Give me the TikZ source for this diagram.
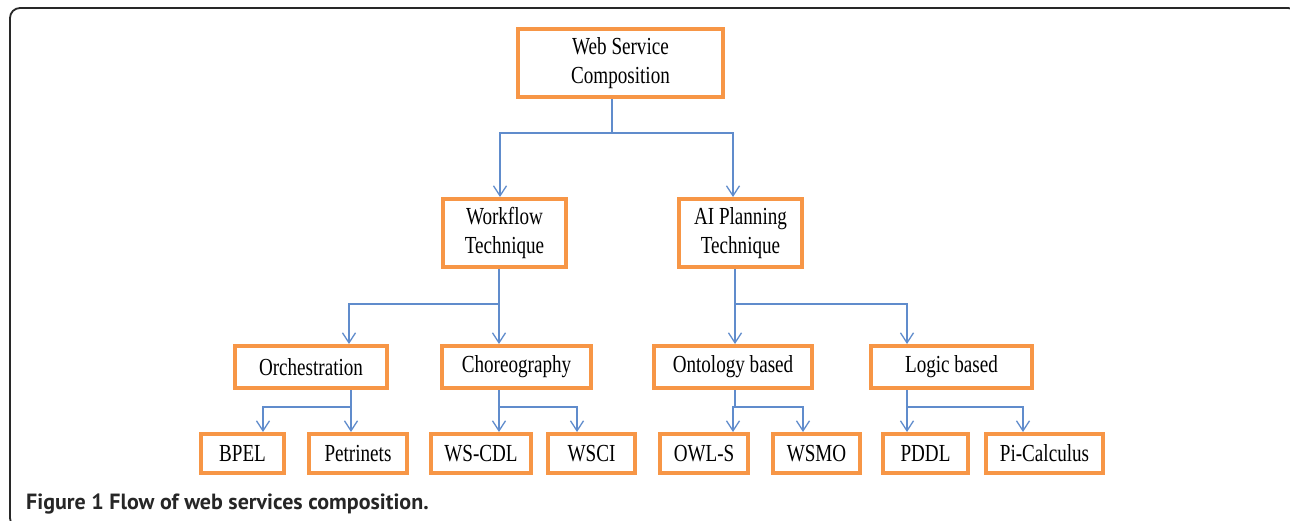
\documentclass[tikz,border=0pt]{standalone}
\usepackage{fontspec}
\setmainfont{Liberation Serif}[FakeStretch=0.78]
\newfontfamily\capfont{PT Sans}
\usetikzlibrary{arrows.meta}
\definecolor{boxorange}{RGB}{247,150,70}
\definecolor{linkblue}{RGB}{96,140,204}
\definecolor{framegray}{RGB}{40,40,40}
\begin{document}
\begin{tikzpicture}[x=1pt,y=-1pt,
  box/.style={draw=boxorange, line width=4pt, fill=white, inner sep=0pt,
    align=center, font=\fontsize{24.5}{29}\selectfont},
  link/.style={draw=linkblue, line width=1.4pt},
  arr/.style={link, -{Straight Barb[length=10pt,width=13pt,line width=1.3pt]}}]
\useasboundingbox (0,0) rectangle (1290,520);
\clip (0,0) rectangle (1290,520);
% outer figure frame
\draw[framegray, line width=1.8pt, rounded corners=10pt] (10,8) rectangle (1298,528);

% tree nodes
\node[box, minimum width=205pt, minimum height=68pt] (wsc) at (620.5,63) {Web Service\\Composition};
\node[box, minimum width=123pt, minimum height=68pt] (wf) at (504.5,233) {Workflow\\Technique};
\node[box, minimum width=123pt, minimum height=68pt] (ai) at (740.5,233) {AI Planning\\Technique};

\node[box, minimum width=152pt, minimum height=42pt] (orch) at (311,367) {Orchestration};
\node[box, minimum width=149pt, minimum height=42pt] (chor) at (516.5,367) {Choreography};
\node[box, minimum width=158pt, minimum height=42pt] (onto) at (733,367) {Ontology based};
\node[box, minimum width=161pt, minimum height=42pt] (logic) at (951.5,367) {Logic based};

\node[box, minimum width=83pt, minimum height=39pt] (bpel) at (242.5,453.5) {BPEL};
\node[box, minimum width=98pt, minimum height=39pt] (petri) at (358,453.5) {Petrinets};
\node[box, minimum width=100pt, minimum height=39pt] (wscdl) at (481,453.5) {WS-CDL};
\node[box, minimum width=87pt, minimum height=39pt] (wsci) at (591.5,453.5) {WSCI};
\node[box, minimum width=88pt, minimum height=39pt] (owls) at (704,453.5) {OWL-S};
\node[box, minimum width=87pt, minimum height=39pt] (wsmo) at (816.5,453.5) {WSMO};
\node[box, minimum width=85pt, minimum height=39pt] (pddl) at (925.5,453.5) {PDDL};
\node[box, minimum width=117pt, minimum height=39pt] (pi) at (1044.5,453.5) {Pi-Calculus};

% branch points
\coordinate (j1) at (612,133);
\coordinate (j2) at (499,304);
\coordinate (j3) at (735,304);
\coordinate (j4) at (351,407);
\coordinate (j5) at (499,407);
\coordinate (j6) at (735,407);
\coordinate (j7) at (907,407);

% level 1 -> level 2
\draw[link] (wsc.south -| j1) -- (j1);
\draw[arr] (j1) -| ([xshift=-4.5pt]wf.north);
\draw[arr] (j1) -| ([xshift=-7.5pt]ai.north);

% level 2 -> level 3
\draw[link] (wf.south -| j2) -- (j2);
\draw[arr] (j2) -| ([xshift=38pt]orch.north);
\draw[arr] (j2) -- ([xshift=-17.5pt]chor.north);
\draw[link] (ai.south -| j3) -- (j3);
\draw[arr] (j3) -- ([xshift=2pt]onto.north);
\draw[arr] (j3) -| ([xshift=-44.5pt]logic.north);

% level 3 -> leaves
\draw[link] (orch.south -| j4) -- (j4);
\draw[arr] (j4) -| ([xshift=20.5pt]bpel.north);
\draw[arr] (j4) -- ([xshift=-7pt]petri.north);
\draw[link] (chor.south -| j5) -- (j5);
\draw[arr] (j5) -- ([xshift=18pt]wscdl.north);
\draw[arr] (j5) -| ([xshift=-14.5pt]wsci.north);
\draw[link] (onto.south -| j6) -- (j6);
\draw[arr] (j6) -| ([xshift=29pt]owls.north);
\draw[arr] (j6) -| ([xshift=-13.5pt]wsmo.north);
\draw[link] (logic.south -| j7) -- (j7);
\draw[arr] (j7) -- ([xshift=-18.5pt]pddl.north);
\draw[arr] (j7) -| ([xshift=-21.5pt]pi.north);

% caption
\node[anchor=base west, inner sep=0pt, text=black!85, font=\capfont\fontsize{22}{26}\selectfont\bfseries] (cap) at (26,509) {Figure 1 Flow of web services composition.};
\end{tikzpicture}
\end{document}
